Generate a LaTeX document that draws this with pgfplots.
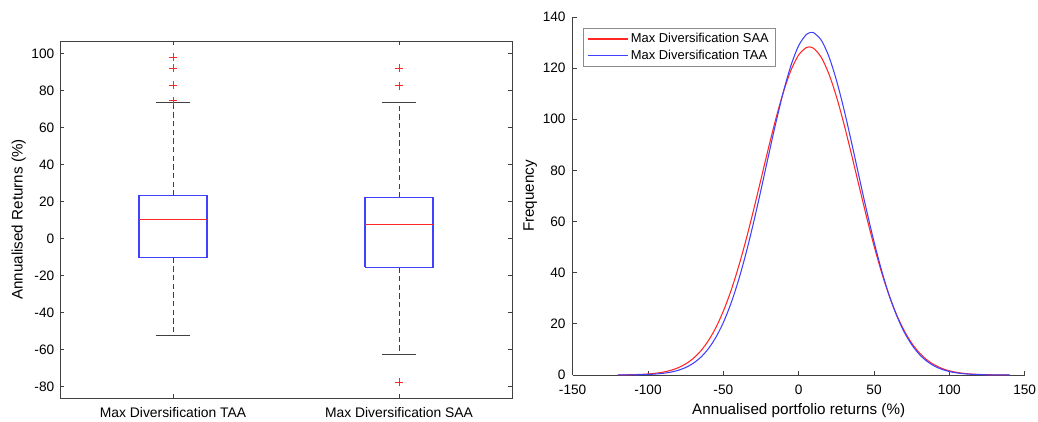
\documentclass[border=0pt]{standalone}
\usepackage{pgfplots}
\pgfplotsset{compat=1.18}
\usepackage{fontspec}
\setmainfont{Liberation Sans}

\definecolor{axgray}{rgb}{0.25,0.25,0.25}
\definecolor{legray}{rgb}{0.55,0.55,0.55}
\definecolor{mblue}{rgb}{0.25,0.25,1}
\definecolor{mred}{rgb}{1,0.15,0.15}

% kernel density estimates
\pgfplotstableread{
x y
-120 0.038
-115 0.071
-110 0.130
-105 0.231
-100 0.401
-95 0.678
-90 1.120
-85 1.803
-80 2.830
-75 4.334
-70 6.470
-65 9.417
-60 13.36
-55 18.49
-50 24.97
-45 32.83
-40 42.16
-35 52.74
-30 64.36
-25 76.58
-20 88.87
-15 100.54
-10 110.91
-5 119.32
0 125.17
5 128.04
7 128.30
10 127.72
15 124.22
20 117.82
25 108.98
30 98.28
35 86.42
40 74.12
45 61.98
50 50.54
55 40.18
60 31.15
65 23.56
70 17.36
75 12.48
80 8.75
85 5.98
90 3.99
95 2.59
100 1.64
105 1.015
110 0.612
115 0.359
120 0.206
125 0.115
130 0.063
135 0.033
140 0.017
}\saa

\pgfplotstableread{
x y
-120 0.016
-115 0.031
-110 0.061
-105 0.115
-100 0.211
-95 0.377
-90 0.656
-85 1.111
-80 1.829
-75 2.932
-70 4.571
-65 6.933
-60 10.23
-55 14.69
-50 20.52
-45 27.90
-40 36.90
-35 47.49
-30 59.46
-25 72.43
-20 85.84
-15 99.00
-10 111.07
-5 121.26
0 128.80
5 133.10
8.5 134.00
10 133.84
15 130.93
20 124.63
25 115.41
30 104.01
35 91.19
40 77.77
45 64.55
50 52.13
55 40.95
60 31.30
65 23.29
70 16.86
75 11.87
80 8.13
85 5.42
90 3.51
95 2.22
100 1.36
105 0.813
110 0.472
115 0.267
120 0.147
125 0.079
130 0.041
135 0.021
140 0.010
}\taa

\pgfplotsset{
  matlab/.style={
    scale only axis,
    width=339pt,
    axis line style={draw=axgray, line width=0.6pt},
    every tick/.style={draw=axgray, line width=0.6pt},
    major tick length=3.2pt,
    tick align=inside,
    ticklabel style={font=\fontsize{10.25}{12}\selectfont},
    label style={font=\fontsize{11.4}{13}\selectfont},
    /pgf/number format/assume math mode=true,
  },
  whisk/.style={draw=black!75, line width=0.6pt, dash pattern=on 4pt off 2.5pt},
  cap/.style={draw=axgray, line width=0.8pt},
  bbox/.style={draw=mblue, line width=1pt},
  med/.style={draw=mred, line width=0.8pt},
  outl/.style={only marks, mark=+, mark size=3pt, mark options={draw=mred, line width=0.6pt}},
}

\begin{document}
\begin{tikzpicture}
\path[use as bounding box] (0,0) rectangle (778.5pt,315.75pt);

% left: box plots
\begin{axis}[
  matlab,
  at={(45pt,17.25pt)}, anchor=south west,
  height=267.75pt,
  xmin=0.5, xmax=2.5,
  ymin=-86.1, ymax=106.7,
  xtick={1,2},
  xticklabels={Max Diversification TAA, Max Diversification SAA},
  ytick={-80,-60,...,100},
  xtick pos=both, ytick pos=both,
  x tick label style={yshift=-3.4pt, font=\fontsize{10.4}{12}\selectfont},
  y tick label style={xshift=-0.8pt},
  ylabel={Annualised Returns (\%)},
  ylabel style={at={(axis description cs:-0.0915,0.5)}, anchor=center},
]
% Max Diversification TAA
\addplot[whisk] coordinates {(1,23.1) (1,73.4)};
\addplot[whisk] coordinates {(1,-10.3) (1,-52.4)};
\addplot[cap] coordinates {(0.925,73.4) (1.075,73.4)};
\addplot[cap] coordinates {(0.925,-52.4) (1.075,-52.4)};
\addplot[bbox] coordinates {(0.85,-10.3) (1.15,-10.3) (1.15,23.1) (0.85,23.1) (0.85,-10.3)};
\addplot[med] coordinates {(0.85,10.4) (1.15,10.4)};
\addplot[outl] coordinates {(1,97.9) (1,91.9) (1,82.9) (1,74.4)};
% Max Diversification SAA
\addplot[whisk] coordinates {(2,22.1) (2,73.4)};
\addplot[whisk] coordinates {(2,-15.5) (2,-62.7)};
\addplot[cap] coordinates {(1.925,73.4) (2.075,73.4)};
\addplot[cap] coordinates {(1.925,-62.7) (2.075,-62.7)};
\addplot[bbox] coordinates {(1.85,-15.5) (2.15,-15.5) (2.15,22.1) (1.85,22.1) (1.85,-15.5)};
\addplot[med] coordinates {(1.85,7.7) (2.15,7.7)};
\addplot[outl] coordinates {(2,91.9) (2,82.5) (2,-77.7)};
\end{axis}

% right: density curves
\begin{axis}[
  matlab,
  at={(429.5pt,34.5pt)}, anchor=south west,
  height=268.5pt,
  xmin=-150, xmax=150,
  ymin=0, ymax=140,
  xtick={-150,-100,...,150},
  ytick={0,20,...,140},
  axis x line*=bottom, axis y line*=left,
  x tick label style={yshift=-3.8pt},
  y tick label style={xshift=-1.8pt},
  xlabel={Annualised portfolio returns (\%)},
  ylabel={Frequency},
  xlabel style={at={(axis description cs:0.5,-0.098)}, anchor=center},
  ylabel style={at={(axis description cs:-0.094,0.5)}, anchor=center},
  legend style={
    at={(0,1)}, anchor=north west, xshift=7.95pt, yshift=-8.25pt,
    draw=legray, fill=white, line width=0.6pt,
    font=\fontsize{9.7}{11}\selectfont,
    inner xsep=2.6pt, inner ysep=1.7pt, row sep=0pt,
    cells={anchor=west},
  },
  legend image code/.code={\draw[#1] (0pt,0pt) -- (30pt,0pt);},
  legend cell align=left,
]
\addplot[draw=mred, line width=0.8pt, smooth] table[x=x, y=y] {\saa};
\addlegendentry{Max Diversification SAA}
\addplot[draw=mblue, line width=0.8pt, smooth] table[x=x, y=y] {\taa};
\addlegendentry{Max Diversification TAA}
\end{axis}
\end{tikzpicture}
\end{document}
